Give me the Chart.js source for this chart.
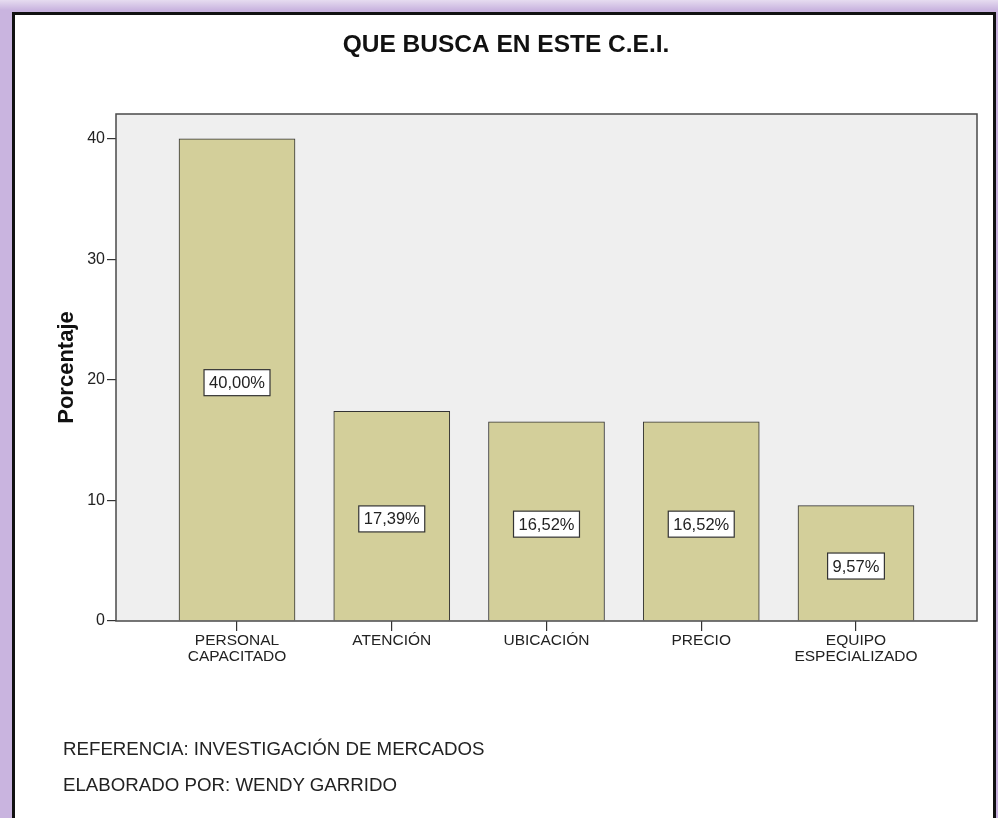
<!DOCTYPE html>
<html>
<head>
<meta charset="utf-8">
<script src="https://cdn.jsdelivr.net/npm/chart.js@4"></script>
<style>
  body { margin: 0; width: 998px; height: 818px; overflow: hidden; position: relative;
         background: linear-gradient(to bottom, #e6dcf0 0px, #c9b4df 10px, #c9b4df 100%); }
  #frame { position: absolute; left: 12px; top: 12px; width: 978px; height: 830px; background: #fff;
           border-left: 3px solid #111; border-top: 3px solid #111; border-right: 3px solid #111; }
  #chart { position: absolute; left: 0; top: 0; }
  .note { position: absolute; left: 63px; font: 18.7px "Liberation Sans", Arial, sans-serif; color: #222; }
</style>
</head>
<body>
<div id="frame"></div>
<canvas id="chart" width="998" height="818"></canvas>
<div class="note" style="top:738px">REFERENCIA: INVESTIGACIÓN DE MERCADOS</div>
<div class="note" style="top:774px">ELABORADO POR: WENDY GARRIDO</div>
<script>
const chartTitle = 'QUE BUSCA EN ESTE C.E.I.';
const categories = [
    ['PERSONAL', 'CAPACITADO'],
    ['ATENCIÓN'],
    ['UBICACIÓN'],
    ['PRECIO'],
    ['EQUIPO', 'ESPECIALIZADO']
];
const percentages = [40.00, 17.39, 16.52, 16.52, 9.57];
const yTicks = [0, 10, 20, 30, 40];

const FONT = '"Liberation Sans", Arial, sans-serif';

const plotFrame = {
    id: 'plotFrame',
    beforeDraw(chart) {
        const { ctx, chartArea: a } = chart;
        ctx.save();
        ctx.fillStyle = '#efefef';
        ctx.fillRect(a.left, a.top, a.right - a.left, a.bottom - a.top);
        ctx.restore();
    },
    afterDatasetsDraw(chart) {
        const { ctx, chartArea: a } = chart;
        ctx.save();
        ctx.strokeStyle = '#4a4a4a';
        ctx.lineWidth = 1.5;
        ctx.strokeRect(a.left, a.top, a.right - a.left, a.bottom - a.top);

        // value boxes
        ctx.font = '16.5px ' + FONT;
        ctx.textAlign = 'center';
        ctx.textBaseline = 'middle';
        chart.getDatasetMeta(0).data.forEach((bar, i) => {
            const txt = percentages[i].toFixed(2).replace('.', ',') + '%';
            const w = ctx.measureText(txt).width + 10;
            const h = 26;
            const cx = bar.x;
            const cy = (bar.y + bar.base) / 2 + 3;
            ctx.fillStyle = '#fff';
            ctx.fillRect(cx - w / 2, cy - h / 2, w, h);
            ctx.strokeStyle = '#333';
            ctx.lineWidth = 1.2;
            ctx.strokeRect(cx - w / 2, cy - h / 2, w, h);
            ctx.fillStyle = '#222';
            ctx.fillText(txt, cx, cy + 1);
        });

        // title
        ctx.font = 'bold 24.5px ' + FONT;
        ctx.fillStyle = '#111';
        ctx.fillText(chartTitle, 506, 45);
        ctx.restore();
    }
};

new Chart(document.getElementById('chart'), {
    type: 'bar',
    data: {
        datasets: [{
            data: percentages.map((v, i) => ({ x: i + 1, y: v })),
            backgroundColor: '#d3cf9a',
            borderColor: '#333',
            borderWidth: 1,
            barThickness: 116
        }]
    },
    options: {
        responsive: false,
        animation: false,
        layout: { padding: { top: 114, left: 54, right: 21, bottom: 137 } },
        plugins: { legend: { display: false }, tooltip: { enabled: false } },
        scales: {
            x: {
                type: 'linear',
                offset: false,
                min: 0.218,
                max: 5.782,
                afterFit: s => { s.height = 60; },
                afterBuildTicks: s => { s.ticks = categories.map((_, i) => ({ value: i + 1 })); },
                border: { display: false },
                grid: { offset: false, drawOnChartArea: false, tickLength: 10, color: '#333', lineWidth: 1.2 },
                ticks: {
                    includeBounds: false,
                    autoSkip: false,
                    maxRotation: 0,
                    padding: 2,
                    color: '#222',
                    font: { family: FONT, size: 15.5, lineHeight: 1.0 },
                    callback: v => categories[v - 1] || ''
                }
            },
            y: {
                min: 0,
                max: 42.07,
                afterFit: s => { s.width = 62; },
                afterBuildTicks: s => { s.ticks = yTicks.map(v => ({ value: v })); },
                border: { display: false },
                grid: { drawOnChartArea: false, tickLength: 9, color: '#333', lineWidth: 1.2 },
                ticks: {
                    includeBounds: false,
                    padding: 2,
                    color: '#222',
                    font: { family: FONT, size: 16 }
                },
                title: {
                    display: true,
                    text: 'Porcentaje',
                    color: '#111',
                    padding: 0,
                    font: { family: FONT, size: 22, weight: 'bold' }
                }
            }
        }
    },
    plugins: [plotFrame]
});
</script>
</body>
</html>
